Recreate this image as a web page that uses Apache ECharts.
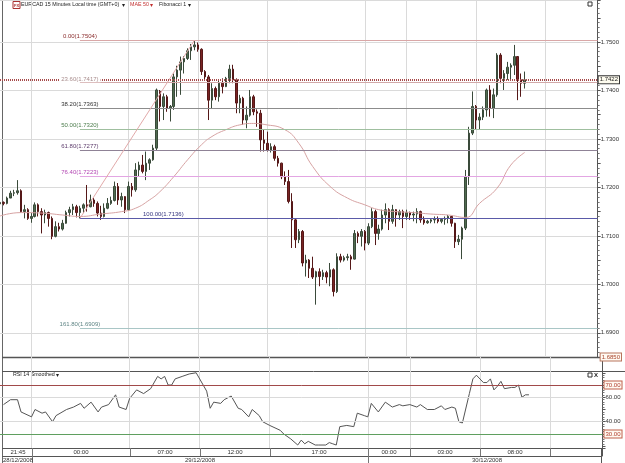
<!DOCTYPE html>
<html>
<head>
<meta charset="utf-8">
<script src="https://cdn.jsdelivr.net/npm/echarts@6/dist/echarts.min.js"></script>
<style>
  html, body { margin: 0; padding: 0; background: #fff; }
  #chart { width: 625px; height: 463px; }
</style>
</head>
<body>
<div id="chart"></div>
<script>
// 15 minute bars, EURCAD, 28/12/2008 21:45 onwards
const categories = [];
{
  const start = Date.UTC(2008, 11, 28, 21, 45);
  for (let i = 0; i < 173; i++) {
    const d = new Date(start + i * 15 * 60000);
    const p = (n) => String(n).padStart(2, '0');
    categories.push(p(d.getUTCDate()) + '/12 ' + p(d.getUTCHours()) + ':' + p(d.getUTCMinutes()));
  }
}

const opens = [
  1.7166, 1.7169, 1.7167, 1.7178, 1.7188, 1.7189, 1.7193, 1.7150, 1.7154, 1.7136,
  1.7140, 1.7164, 1.7150, 1.7143, 1.7148, 1.7136, 1.7099, 1.7119, 1.7114, 1.7126,
  1.7148, 1.7154, 1.7160, 1.7148, 1.7157, 1.7164, 1.7160, 1.7174, 1.7167, 1.7147,
  1.7140, 1.7157, 1.7167, 1.7173, 1.7202, 1.7174, 1.7181, 1.7154, 1.7202, 1.7195,
  1.7236, 1.7246, 1.7233, 1.7250, 1.7257, 1.7281, 1.7398, 1.7367, 1.7387, 1.7363,
  1.7367, 1.7428, 1.7442, 1.7459, 1.7466, 1.7482, 1.7490, 1.7494, 1.7485, 1.7439,
  1.7428, 1.7380, 1.7404, 1.7387, 1.7415, 1.7408, 1.7425, 1.7444, 1.7422, 1.7374,
  1.7384, 1.7339, 1.7349, 1.7387, 1.7356, 1.7353, 1.7298, 1.7291, 1.7277, 1.7284,
  1.7260, 1.7250, 1.7222, 1.7212, 1.7171, 1.7133, 1.7092, 1.7109, 1.7044, 1.7050,
  1.7033, 1.7015, 1.7026, 1.7016, 1.7024, 1.7015, 1.7030, 1.6985, 1.7057, 1.7050,
  1.7055, 1.7057, 1.7052, 1.7105, 1.7099, 1.7109, 1.7085, 1.7119, 1.7150, 1.7105,
  1.7114, 1.7143, 1.7154, 1.7130, 1.7154, 1.7143, 1.7150, 1.7140, 1.7148, 1.7143,
  1.7145, 1.7150, 1.7133, 1.7127, 1.7130, 1.7133, 1.7134, 1.7130, 1.7134, 1.7136,
  1.7140, 1.7126, 1.7088, 1.7093, 1.7116, 1.7222, 1.7312, 1.7367, 1.7339, 1.7345,
  1.7360, 1.7401, 1.7363, 1.7391, 1.7473, 1.7425, 1.7435, 1.7448, 1.7452, 1.7470,
  1.7422, 1.7415
];
const closes = [
  1.7169, 1.7167, 1.7178, 1.7188, 1.7189, 1.7193, 1.7150, 1.7154, 1.7136, 1.7140,
  1.7164, 1.7150, 1.7143, 1.7148, 1.7136, 1.7099, 1.7119, 1.7114, 1.7126, 1.7148,
  1.7154, 1.7160, 1.7148, 1.7157, 1.7164, 1.7160, 1.7174, 1.7167, 1.7147, 1.7140,
  1.7157, 1.7167, 1.7173, 1.7202, 1.7174, 1.7181, 1.7154, 1.7202, 1.7195, 1.7236,
  1.7246, 1.7233, 1.7250, 1.7257, 1.7281, 1.7401, 1.7367, 1.7387, 1.7363, 1.7367,
  1.7428, 1.7442, 1.7459, 1.7466, 1.7482, 1.7490, 1.7494, 1.7485, 1.7439, 1.7428,
  1.7380, 1.7404, 1.7387, 1.7415, 1.7408, 1.7425, 1.7444, 1.7422, 1.7374, 1.7384,
  1.7339, 1.7349, 1.7387, 1.7356, 1.7353, 1.7298, 1.7291, 1.7277, 1.7284, 1.7260,
  1.7250, 1.7222, 1.7212, 1.7171, 1.7133, 1.7092, 1.7109, 1.7044, 1.7050, 1.7033,
  1.7015, 1.7026, 1.7016, 1.7024, 1.7015, 1.7030, 1.6985, 1.7057, 1.7050, 1.7055,
  1.7057, 1.7052, 1.7105, 1.7099, 1.7109, 1.7085, 1.7119, 1.7150, 1.7105, 1.7114,
  1.7143, 1.7154, 1.7130, 1.7154, 1.7143, 1.7150, 1.7140, 1.7148, 1.7143, 1.7145,
  1.7150, 1.7133, 1.7127, 1.7130, 1.7133, 1.7134, 1.7130, 1.7134, 1.7136, 1.7140,
  1.7126, 1.7088, 1.7093, 1.7116, 1.7222, 1.7312, 1.7367, 1.7339, 1.7345, 1.7360,
  1.7401, 1.7363, 1.7391, 1.7473, 1.7425, 1.7435, 1.7448, 1.7452, 1.7470, 1.7422,
  1.7415, 1.7422
];
const lows = [
  1.7162, 1.7163, 1.7165, 1.7181, 1.7182, 1.7185, 1.7148, 1.7136, 1.7133, 1.7127,
  1.7138, 1.7140, 1.7105, 1.7126, 1.7119, 1.7093, 1.7097, 1.7109, 1.7111, 1.7125,
  1.7140, 1.7143, 1.7138, 1.7136, 1.7147, 1.7150, 1.7159, 1.7160, 1.7140, 1.7133,
  1.7138, 1.7155, 1.7164, 1.7171, 1.7164, 1.7160, 1.7147, 1.7152, 1.7181, 1.7191,
  1.7222, 1.7229, 1.7215, 1.7236, 1.7255, 1.7277, 1.7336, 1.7339, 1.7356, 1.7336,
  1.7360, 1.7387, 1.7391, 1.7435, 1.7463, 1.7463, 1.7483, 1.7480, 1.7432, 1.7422,
  1.7339, 1.7363, 1.7380, 1.7377, 1.7394, 1.7407, 1.7415, 1.7415, 1.7353, 1.7353,
  1.7329, 1.7322, 1.7346, 1.7349, 1.7325, 1.7274, 1.7274, 1.7274, 1.7272, 1.7255,
  1.7243, 1.7217, 1.7205, 1.7167, 1.7075, 1.7075, 1.7085, 1.7037, 1.7016, 1.7013,
  1.7011, 1.6958, 1.6996, 1.7009, 1.7002, 1.6996, 1.6975, 1.6982, 1.7045, 1.7047,
  1.7049, 1.7030, 1.7051, 1.7085, 1.7078, 1.7070, 1.7081, 1.7116, 1.7081, 1.7092,
  1.7111, 1.7126, 1.7112, 1.7125, 1.7119, 1.7133, 1.7116, 1.7133, 1.7133, 1.7130,
  1.7126, 1.7127, 1.7123, 1.7125, 1.7126, 1.7126, 1.7126, 1.7126, 1.7123, 1.7126,
  1.7119, 1.7075, 1.7081, 1.7052, 1.7112, 1.7205, 1.7308, 1.7319, 1.7319, 1.7339,
  1.7346, 1.7346, 1.7343, 1.7387, 1.7415, 1.7401, 1.7422, 1.7422, 1.7432, 1.7380,
  1.7387, 1.7404
];
const highs = [
  1.7173, 1.7171, 1.7181, 1.7193, 1.7195, 1.7215, 1.7196, 1.7164, 1.7157, 1.7147,
  1.7169, 1.7167, 1.7157, 1.7154, 1.7150, 1.7140, 1.7130, 1.7127, 1.7133, 1.7152,
  1.7160, 1.7166, 1.7164, 1.7162, 1.7167, 1.7205, 1.7185, 1.7178, 1.7171, 1.7162,
  1.7167, 1.7178, 1.7181, 1.7212, 1.7209, 1.7189, 1.7182, 1.7212, 1.7209, 1.7250,
  1.7253, 1.7267, 1.7274, 1.7260, 1.7288, 1.7404, 1.7401, 1.7394, 1.7391, 1.7370,
  1.7435, 1.7451, 1.7470, 1.7471, 1.7487, 1.7496, 1.7504, 1.7499, 1.7487, 1.7442,
  1.7432, 1.7415, 1.7408, 1.7422, 1.7425, 1.7428, 1.7453, 1.7453, 1.7425, 1.7391,
  1.7387, 1.7367, 1.7401, 1.7391, 1.7361, 1.7360, 1.7319, 1.7315, 1.7291, 1.7288,
  1.7265, 1.7251, 1.7233, 1.7236, 1.7188, 1.7136, 1.7114, 1.7112, 1.7061, 1.7052,
  1.7057, 1.7028, 1.7033, 1.7030, 1.7028, 1.7044, 1.7033, 1.7064, 1.7063, 1.7059,
  1.7063, 1.7061, 1.7112, 1.7109, 1.7114, 1.7112, 1.7126, 1.7157, 1.7154, 1.7123,
  1.7154, 1.7167, 1.7157, 1.7164, 1.7155, 1.7154, 1.7154, 1.7154, 1.7150, 1.7150,
  1.7157, 1.7152, 1.7140, 1.7133, 1.7136, 1.7140, 1.7140, 1.7136, 1.7140, 1.7143,
  1.7141, 1.7127, 1.7102, 1.7119, 1.7236, 1.7325, 1.7398, 1.7370, 1.7353, 1.7367,
  1.7404, 1.7411, 1.7404, 1.7477, 1.7477, 1.7442, 1.7459, 1.7456, 1.7494, 1.7471,
  1.7435, 1.7439
];

// MAE 50 at these bars
const maIdx = [0, 6, 12, 18, 23, 29, 35, 39, 43, 46, 50, 54, 58, 61, 65, 69, 73, 76, 82, 86,
  90, 95, 100, 105, 109, 114, 119, 124, 129, 134, 138, 143, 147, 151];
const maVal = [1.7141, 1.7148, 1.7147, 1.7143, 1.7140, 1.7145, 1.7150, 1.7157, 1.7174, 1.7191,
  1.7222, 1.7257, 1.7288, 1.7305, 1.7319, 1.7329, 1.7332, 1.7330, 1.7319, 1.7291,
  1.7243, 1.7202, 1.7178, 1.7164, 1.7154, 1.7150, 1.7148, 1.7145, 1.7143, 1.7138,
  1.7167, 1.7198, 1.7246, 1.7272];

// RSI 14 smoothed
const rsiIdx = [1, 3, 5, 6, 9, 10, 12, 13, 15, 16, 19, 21, 23, 24, 26, 28, 29, 31, 33, 34,
  36, 37, 39, 41, 43, 45, 46, 47, 48, 49, 50, 52, 54, 56, 58, 59, 60, 61, 63, 64,
  66, 68, 69, 71, 72, 74, 75, 77, 80, 81, 83, 85, 86, 87, 88, 90, 91, 93, 94, 95,
  96, 97, 99, 101, 102, 104, 105, 106, 108, 110, 112, 114, 115, 117, 119, 120, 122, 124, 126, 127,
  129, 130, 131, 132, 134, 135, 136, 138, 139, 140, 141, 142, 143, 144, 146, 147, 148, 149, 150, 151];
const rsiVal = [54, 58, 58, 48, 44, 50, 47, 48, 40, 45, 50, 52, 55, 51, 56, 48, 52, 54, 62, 52,
  50, 59, 66, 63, 67, 77, 75, 77, 70, 70, 75, 77, 79, 80, 70, 65, 51, 56, 55, 58,
  61, 51, 50, 44, 50, 45, 40, 37, 33, 30, 26, 21, 25, 22, 24, 21, 21, 21, 23, 22,
  21, 36, 37, 36, 47, 45, 44, 55, 48, 56, 52, 54, 53, 54, 52, 54, 50, 50, 53, 50,
  52, 51, 40, 39, 63, 75, 78, 72, 72, 75, 66, 69, 73, 67, 68, 68, 70, 60, 62, 62];

const fibRatios = [0, 23.6, 38.2, 50, 61.8, 76.4, 100, 161.8];
const fibPrices = [1.7504, 1.7417, 1.7363, 1.7320, 1.7277, 1.7223, 1.7136, 1.6909];
const fibFrom = '29/12 03:30';
const fibTo = '29/12 11:45';

const rsiLevels = [70, 60, 40, 30];

const timeSeps = ['29/12 00:00', '29/12 07:00', '29/12 12:00', '29/12 17:00',
  '30/12 00:00', '30/12 03:00', '30/12 08:00', '30/12 13:00'];
const timeLabels = ['21:45', '00:00', '07:00', '12:00', '17:00', '00:00', '03:00', '08:00'];
const dateSeps = ['29/12 00:00', '30/12 00:00'];
const dateLabels = ['28/12/2008', '29/12/2008', '30/12/2008'];

// ---------------------------------------------------------------------------
const FONT = '"Liberation Sans", Arial, sans-serif';
const last = categories.length - 1;
const sepIdx = timeSeps.map((s) => categories.indexOf(s));
const dateSepIdx = dateSeps.map((s) => categories.indexOf(s));

const timeLabelAt = {};
[0].concat(sepIdx).forEach((b, k, arr) => {
  if (k < timeLabels.length) timeLabelAt[Math.round((b + arr[k + 1]) / 2)] = timeLabels[k];
});
const dateLabelAt = {};
[0].concat(dateSepIdx, [last]).forEach((b, k, arr) => {
  if (k < dateLabels.length) dateLabelAt[Math.round((b + arr[k + 1]) / 2)] = dateLabels[k];
});

const lastPrice = closes[closes.length - 1];

const fibLineColors = ['#d9a7a7', '#d2a9a9', '#8c8c8c', '#9fbf9f', '#8f8296', '#e3a6e3', '#5a5aa8', '#a9c6c6'];
const fibTextColors = ['#8a2c2c', '#a88c8c', '#333333', '#4d7d4d', '#5c3b6b', '#b347b3', '#34347e', '#5f8585'];

const gridL = -2.7, gridR = 22.5;

function catAxis(gridIndex, extra) {
  return Object.assign({
    type: 'category',
    gridIndex: gridIndex,
    data: categories,
    boundaryGap: false,
    axisLine: { show: false },
    axisTick: { show: false },
    axisLabel: { show: false },
    splitLine: {
      show: true,
      interval: (i) => sepIdx.indexOf(i) >= 0,
      lineStyle: { color: '#dadada', width: 1 }
    }
  }, extra || {});
}

const chart = echarts.init(document.getElementById('chart'));

chart.setOption({
  animation: false,
  backgroundColor: '#fff',
  textStyle: { fontFamily: FONT },
  grid: [
    { left: gridL, right: gridR, top: 0, height: 357 },
    { left: gridL, right: gridR, top: 357, height: 14 },
    { left: gridL, right: gridR, top: 371, height: 77 },
    { left: gridL, right: gridR, top: 448, height: 8 }
  ],
  xAxis: [
    catAxis(0),
    catAxis(1),
    catAxis(2),
    catAxis(3, {
      position: 'top',
      splitLine: {
        show: true,
        interval: (i) => sepIdx.indexOf(i) >= 0,
        lineStyle: { color: '#777', width: 1 }
      },
      axisLabel: {
        show: true,
        inside: true,
        margin: 1,
        fontSize: 6,
        color: '#333',
        interval: (i) => timeLabelAt[i] !== undefined,
        formatter: (v, i) => timeLabelAt[i] || ''
      }
    }),
    catAxis(3, {
      position: 'bottom',
      splitLine: { show: false },
      axisTick: {
        show: true,
        length: 7,
        interval: (i) => dateSepIdx.indexOf(i) >= 0,
        lineStyle: { color: '#777' }
      },
      axisLabel: {
        show: true,
        margin: 1,
        fontSize: 6,
        color: '#333',
        interval: (i) => dateLabelAt[i] !== undefined,
        formatter: (v, i) => dateLabelAt[i] || ''
      }
    })
  ],
  yAxis: [
    {
      type: 'value',
      gridIndex: 0,
      position: 'right',
      min: 1.685,
      max: 1.75867,
      interval: 0.005,
      axisLine: { show: true, lineStyle: { color: '#555' } },
      axisTick: { show: true, length: 3, lineStyle: { color: '#555' } },
      minorTick: { show: true, splitNumber: 5, length: 2, lineStyle: { color: '#777' } },
      splitLine: { show: true, lineStyle: { color: ['transparent', '#dadada'] } },
      axisLabel: {
        margin: 3,
        fontSize: 6,
        color: '#333',
        formatter: (v) => {
          if (Math.abs(v - 1.685) < 1e-6) return '{lo|1.6850}';
          if (Math.abs(v * 100 - Math.round(v * 100)) < 1e-6) return v.toFixed(4);
          return '';
        },
        rich: {
          lo: {
            fontSize: 6, color: '#a8442c', borderColor: '#b8745c', borderWidth: 1,
            backgroundColor: '#fffaf2', padding: [1, 1, 0, 1]
          }
        }
      }
    },
    {
      type: 'value', gridIndex: 1, position: 'right', min: 0, max: 1,
      axisLine: { show: true, lineStyle: { color: '#555' } },
      axisTick: { show: false }, axisLabel: { show: false }, splitLine: { show: false }
    },
    {
      type: 'value', gridIndex: 2, position: 'right', min: 18.57, max: 81.43,
      axisLine: { show: true, lineStyle: { color: '#555' } },
      axisTick: { show: true, length: 3, lineStyle: { color: '#555' } },
      minorTick: { show: true, splitNumber: 5, length: 2, lineStyle: { color: '#777' } },
      axisLabel: { show: false },
      splitLine: { show: false }
    },
    {
      type: 'value', gridIndex: 3, position: 'right', min: 0, max: 1,
      axisLine: { show: true, lineStyle: { color: '#555' } },
      axisTick: { show: false }, axisLabel: { show: false }, splitLine: { show: false }
    }
  ],
  series: [
    {
      name: 'EURCAD',
      type: 'candlestick',
      xAxisIndex: 0,
      yAxisIndex: 0,
      barWidth: 2,
      data: opens.map((o, i) => [o, closes[i], lows[i], highs[i]]),
      itemStyle: {
        color: '#4f6b4f',
        color0: '#7a2323',
        borderColor: '#3a4a3a',
        borderColor0: '#551818',
        borderWidth: 1
      },
      markLine: {
        silent: true,
        symbol: ['none', 'none'],
        label: { show: false },
        data: fibPrices.map((p, k) => [
          { coord: [fibFrom, p], lineStyle: { color: fibLineColors[k], width: 1, type: 'solid' } },
          { coord: [categories[last], p] }
        ]).concat([
          [
            { coord: [fibFrom, fibPrices[6]], lineStyle: { color: '#e2aaaa', width: 1, type: 'solid' } },
            { coord: [fibTo, fibPrices[0]] }
          ],
          [
            {
              coord: [categories[0], lastPrice],
              lineStyle: { color: '#a64a4a', width: 2, type: [1, 1] },
              label: {
                show: true, position: 'end', distance: 1,
                formatter: lastPrice.toFixed(4),
                fontSize: 6, color: '#222', backgroundColor: '#fffdf0',
                borderColor: '#333', borderWidth: 1, padding: [1, 1, 0, 1]
              }
            },
            { coord: [categories[last], lastPrice] }
          ]
        ])
      },
      markPoint: {
        silent: true,
        z: 10,
        symbol: 'circle',
        symbolSize: 0,
        data: fibRatios.map((r, k) => ({
          coord: [k === 6 ? '29/12 09:30' : fibFrom, fibPrices[k]],
          value: r.toFixed(2) + '(' + fibPrices[k].toFixed(4) + ')',
          label: {
            show: true, position: 'top', distance: k === 1 ? 0 : 1,
            fontSize: 6, color: fibTextColors[k],
            backgroundColor: k === 1 ? '#fff' : 'transparent',
            padding: k === 1 ? [0, 2] : 0,
            formatter: (pr) => pr.value
          }
        }))
      }
    },
    {
      name: 'MAE 50',
      type: 'line',
      xAxisIndex: 0,
      yAxisIndex: 0,
      smooth: 0.5,
      symbol: 'none',
      lineStyle: { color: '#d6a2a2', width: 1 },
      data: maIdx.map((x, i) => [x, maVal[i]])
    },
    {
      name: 'RSI 14 Smoothed',
      type: 'line',
      xAxisIndex: 2,
      yAxisIndex: 2,
      symbol: 'none',
      lineStyle: { color: '#555', width: 1 },
      data: rsiIdx.map((x, i) => [x, rsiVal[i]]),
      markLine: {
        silent: true,
        symbol: ['none', 'none'],
        data: rsiLevels.map((v) => {
          const boxed = v === 70 || v === 30;
          return {
            yAxis: v,
            lineStyle: {
              type: 'solid', width: 1,
              color: v === 70 ? '#a14a4a' : v === 30 ? '#5f9f5f' : '#dadada'
            },
            label: boxed ? {
              show: true, position: 'end', distance: 2,
              formatter: v.toFixed(2), fontSize: 6, color: '#b03a2a',
              backgroundColor: '#fffaf2', borderColor: '#c0604a', borderWidth: 1,
              padding: [1, 1, 0, 1]
            } : {
              show: true, position: 'end', distance: 3,
              formatter: v.toFixed(2), fontSize: 6, color: '#333'
            }
          };
        })
      }
    }
  ],
  graphic: [
    { type: 'line', silent: true, shape: { x1: 2.5, y1: 0, x2: 2.5, y2: 463 }, style: { stroke: '#666', lineWidth: 1 } },
    { type: 'line', silent: true, shape: { x1: 2, y1: 357.5, x2: 602, y2: 357.5 }, style: { stroke: '#555', lineWidth: 1.5 } },
    { type: 'line', silent: true, shape: { x1: 2, y1: 371.5, x2: 625, y2: 371.5 }, style: { stroke: '#555', lineWidth: 1 } },
    { type: 'line', silent: true, shape: { x1: 2, y1: 448.5, x2: 602, y2: 448.5 }, style: { stroke: '#555', lineWidth: 1 } },
    { type: 'line', silent: true, shape: { x1: 2, y1: 456.5, x2: 602, y2: 456.5 }, style: { stroke: '#555', lineWidth: 1 } },
    { type: 'line', silent: true, shape: { x1: 601.5, y1: 448, x2: 601.5, y2: 463 }, style: { stroke: '#555', lineWidth: 1 } },
    // header
    { type: 'rect', silent: true, shape: { x: 13, y: 1.5, width: 7, height: 7 }, style: { fill: '#fff', stroke: '#a33', lineWidth: 1 } },
    { type: 'text', silent: true, style: { x: 16.5, y: 5.5, text: 'FX', fill: '#a33', font: 'bold 4px ' + FONT, align: 'center', verticalAlign: 'middle' } },
    { type: 'text', silent: true, style: { x: 21, y: 5, text: 'EURCAD 15 Minutes Local time (GMT+0)', fill: '#222', font: '5.3px ' + FONT, verticalAlign: 'middle' } },
    { type: 'text', silent: true, style: { x: 122, y: 5, text: '\u25BE', fill: '#222', font: '6px ' + FONT, verticalAlign: 'middle' } },
    { type: 'text', silent: true, style: { x: 130, y: 5, text: 'MAE 50', fill: '#c23030', font: '5.3px ' + FONT, verticalAlign: 'middle' } },
    { type: 'text', silent: true, style: { x: 150, y: 5, text: '\u25BE', fill: '#c23030', font: '6px ' + FONT, verticalAlign: 'middle' } },
    { type: 'text', silent: true, style: { x: 159, y: 5, text: 'Fibonacci 1', fill: '#222', font: '5.3px ' + FONT, verticalAlign: 'middle' } },
    { type: 'text', silent: true, style: { x: 188, y: 5, text: '\u25BE', fill: '#222', font: '6px ' + FONT, verticalAlign: 'middle' } },
    { type: 'rect', silent: true, shape: { x: 588, y: 2, width: 4, height: 4 }, style: { fill: '#fff', stroke: '#333', lineWidth: 1 } },
    // RSI panel header
    { type: 'text', silent: true, style: { x: 13, y: 375, text: 'RSI 14 Smoothed', fill: '#222', font: '5.3px ' + FONT, verticalAlign: 'middle' } },
    { type: 'text', silent: true, style: { x: 56, y: 375, text: '\u25BE', fill: '#222', font: '6px ' + FONT, verticalAlign: 'middle' } },
    { type: 'rect', silent: true, shape: { x: 588, y: 373, width: 4, height: 4 }, style: { fill: '#fff', stroke: '#333', lineWidth: 1 } },
    { type: 'text', silent: true, style: { x: 594, y: 375.5, text: 'X', fill: '#222', font: 'bold 6px ' + FONT, verticalAlign: 'middle' } }
  ]
});
</script>
</body>
</html>
